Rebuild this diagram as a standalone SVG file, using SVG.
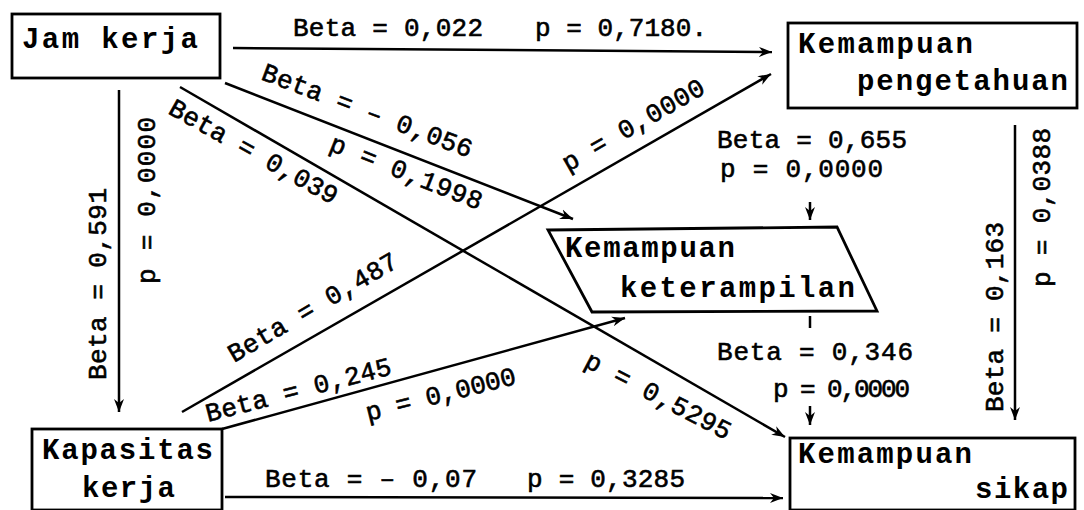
<svg xmlns="http://www.w3.org/2000/svg" width="1084" height="510" viewBox="0 0 1084 510">
<defs>
<marker id="ah" markerUnits="userSpaceOnUse" markerWidth="16" markerHeight="12" refX="13" refY="6" orient="auto">
<path d="M0,1 L13,6 L0,11 L4,6 Z" fill="#000"/>
</marker>
<style>
.box{fill:#fff;stroke:#000;stroke-width:2.8}
.bt{font-family:"Liberation Mono","Courier New",monospace;font-size:29px;font-weight:bold;fill:#000}
.et{font-family:"Liberation Mono","Courier New",monospace;font-size:26px;fill:#000;stroke:#000;stroke-width:0.6}
.c{stroke:#000;stroke-width:2.5;fill:none;marker-end:url(#ah)}
.t{stroke:#000;stroke-width:2.5;fill:none}
</style>
</defs>
<rect width="1084" height="510" fill="#fff"/>
<g id="connectors">
<line class="c" x1="233" y1="48" x2="772" y2="52"/>
<line class="c" x1="225" y1="83" x2="573" y2="219"/>
<line class="c" x1="180" y1="87" x2="785" y2="437"/>
<line class="c" x1="182" y1="412" x2="771" y2="74"/>
<line class="c" x1="222" y1="429" x2="625" y2="318"/>
<line class="c" x1="225" y1="497" x2="783" y2="498"/>
<line class="c" x1="119" y1="90" x2="119" y2="412"/>
<line class="c" x1="1015" y1="125" x2="1015" y2="420"/>
<line class="c" x1="810" y1="202" x2="810" y2="220"/>
<line class="t" x1="810" y1="316" x2="810" y2="328"/>
<line class="c" x1="810" y1="406" x2="810" y2="425"/>
<g id="edge-labels">
<text class="et" x="293" y="36" textLength="190" lengthAdjust="spacing">Beta = 0,022</text>
<text class="et" x="535" y="36" textLength="172" lengthAdjust="spacing">p = 0,7180.</text>
<text class="et" transform="translate(260,79) rotate(20.7)" textLength="223" lengthAdjust="spacing">Beta = – 0,056</text>
<text class="et" transform="translate(328,150) rotate(21.8)" textLength="162" lengthAdjust="spacing">p = 0,1998</text>
<text class="et" transform="translate(167,113) rotate(29.1)" textLength="189" lengthAdjust="spacing">Beta = 0,039</text>
<text class="et" transform="translate(568,172) rotate(-29.8)" textLength="160" lengthAdjust="spacing">p = 0,0000</text>
<text class="et" transform="translate(234,363) rotate(-30.3)" textLength="192" lengthAdjust="spacing">Beta = 0,487</text>
<text class="et" transform="translate(208,422) rotate(-14.5)" textLength="191" lengthAdjust="spacing">Beta = 0,245</text>
<text class="et" transform="translate(368,421) rotate(-14)" textLength="154" lengthAdjust="spacing">p = 0,0000</text>
<text class="et" transform="translate(583,366) rotate(27.4)" textLength="161" lengthAdjust="spacing">p = 0,5295</text>
<text class="et" x="265" y="487" textLength="212" lengthAdjust="spacing">Beta = – 0,07</text>
<text class="et" x="527" y="487" textLength="158" lengthAdjust="spacing">p = 0,3285</text>
<text class="et" x="717" y="148" textLength="190" lengthAdjust="spacing">Beta = 0,655</text>
<text class="et" x="720" y="177" textLength="163" lengthAdjust="spacing">p = 0,0000</text>
<text class="et" x="717" y="360" textLength="196" lengthAdjust="spacing">Beta = 0,346</text>
<text class="et" x="773" y="397" textLength="137" lengthAdjust="spacing">p = 0,0000</text>
<text class="et" transform="translate(106,380) rotate(-90)" textLength="192" lengthAdjust="spacing">Beta = 0,591</text>
<text class="et" transform="translate(155,284) rotate(-90)" textLength="167" lengthAdjust="spacing">p = 0,0000</text>
<text class="et" transform="translate(1003,412) rotate(-90)" textLength="190" lengthAdjust="spacing">Beta = 0,163</text>
<text class="et" transform="translate(1050,287) rotate(-90)" textLength="159" lengthAdjust="spacing">p = 0,0388</text>
</g>
</g>
<g id="jam-kerja">
<rect class="box" x="12" y="14" width="208" height="64"/>
<text class="bt" x="22" y="48" textLength="176" lengthAdjust="spacing">Jam kerja</text>
</g>
<g id="kemampuan-pengetahuan">
<rect class="box" x="788" y="23" width="289" height="85"/>
<text class="bt" x="798" y="53" textLength="175" lengthAdjust="spacing">Kemampuan</text>
<text class="bt" x="857" y="90" textLength="211" lengthAdjust="spacing">pengetahuan</text>
</g>
<g id="kemampuan-keterampilan">
<polygon class="box" points="548,230 837,227 877,311 592,312"/>
<text class="bt" x="565" y="257" textLength="170" lengthAdjust="spacing">Kemampuan</text>
<text class="bt" x="620" y="297" textLength="235" lengthAdjust="spacing">keterampilan</text>
</g>
<g id="kapasitas-kerja">
<rect class="box" x="32" y="429" width="190" height="81"/>
<text class="bt" x="42" y="459" textLength="171" lengthAdjust="spacing">Kapasitas</text>
<text class="bt" x="82" y="497" textLength="93" lengthAdjust="spacing">kerja</text>
</g>
<g id="kemampuan-sikap">
<rect class="box" x="790" y="438" width="285" height="72"/>
<text class="bt" x="798" y="463" textLength="174" lengthAdjust="spacing">Kemampuan</text>
<text class="bt" x="975" y="498" textLength="93" lengthAdjust="spacing">sikap</text>
</g>
</svg>
